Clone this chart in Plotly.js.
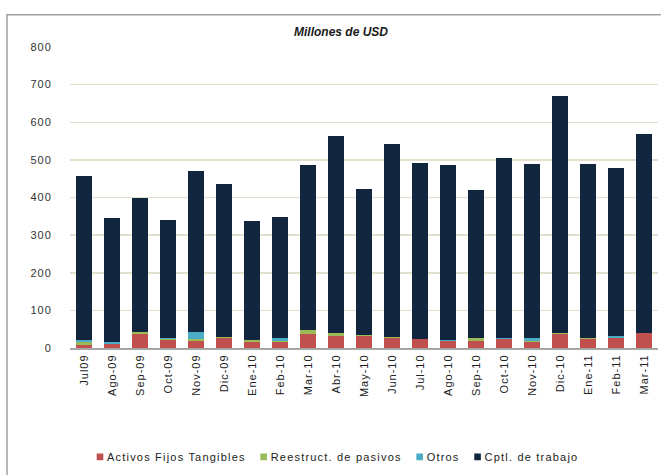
<!DOCTYPE html>
<html>
<head>
<meta charset="utf-8">
<script src="https://cdn.plot.ly/plotly-3.0.1.min.js"></script>
<style>
  html, body { margin: 0; padding: 0; background: #fff; }
  #chart { width: 661px; height: 475px; }
  #chart .xtick text, #chart .ytick text { letter-spacing: 1px; }
  #chart .legendtext { letter-spacing: 1.2px; }
</style>
</head>
<body>
<div id="chart"></div>
<script>
// Monthly breakdown of credit use, millions of USD
const months = ["Jul09", "Ago-09", "Sep-09", "Oct-09", "Nov-09", "Dic-09",
  "Ene-10", "Feb-10", "Mar-10", "Abr-10", "May-10", "Jun-10", "Jul-10",
  "Ago-10", "Sep-10", "Oct-10", "Nov-10", "Dic-10", "Ene-11", "Feb-11", "Mar-11"];

const activosFijos = [9, 11, 38, 21, 17.5, 27, 15, 16, 36, 32, 31, 27, 24,
  17.5, 17.5, 23.5, 15, 36, 23.5, 26, 39];
const reestructPasivos = [6, 0.5, 4, 3.5, 6, 2.5, 5, 1.5, 12, 7, 2.5, 2.5, 0.5,
  0.5, 8, 0.5, 3.5, 3.5, 3.5, 0.5, 0.5];
const otros = [7, 3.5, 0, 2.5, 19, 0, 1, 10, 0, 0, 0, 0, 0,
  4, 2, 3.5, 9, 0, 0, 4.3, 0];
const cptlTrabajo = [436, 331, 356, 313, 428.5, 407.5, 316, 320.5, 439, 524, 388.5,
  512.5, 467.5, 465, 391.5, 477.5, 462.5, 631.5, 463, 447, 530.5];

const FONT = "Liberation Sans, Arial, sans-serif";

function series(name, values, color) {
  return {
    type: "bar",
    name: name,
    x: months,
    y: values,
    marker: { color: color, line: { width: 0 } },
    hoverinfo: "skip"
  };
}

const data = [
  series("Activos Fijos Tangibles", activosFijos, "#C0504D"),
  series("Reestruct. de pasivos", reestructPasivos, "#9BBB59"),
  series("Otros", otros, "#4BACC6"),
  series("Cptl. de trabajo", cptlTrabajo, "#11253F")
];

// plot area spans pixels x 70..658, y 47..354
const L = 70, R = 658, T = 47, B = 354;
const px = p => (p - L) / (R - L);
const py = q => (B - q) / (B - T);

const layout = {
  width: 661,
  height: 475,
  margin: { l: L, r: 661 - R, t: T, b: 475 - B, pad: 0 },
  paper_bgcolor: "#fff",
  plot_bgcolor: "#fff",
  barmode: "stack",
  bargap: 0.42,
  showlegend: true,
  font: { family: FONT, size: 11, color: "#333" },
  title: {
    text: "Millones de USD",
    x: 341 / 661,
    xref: "container",
    xanchor: "center",
    y: 1 - 32 / 475,
    yref: "container",
    yanchor: "middle",
    font: { family: FONT, size: 12, color: "#1a1a1a", weight: "bold", style: "italic" }
  },
  xaxis: {
    type: "category",
    tickangle: -90,
    showgrid: false,
    showline: true,
    linecolor: "#a6a6a6",
    linewidth: 2,
    ticks: "",
    tickfont: { family: FONT, size: 11, color: "#222" },
    fixedrange: true
  },
  yaxis: {
    range: [0, 800],
    dtick: 100,
    tick0: 0,
    showgrid: true,
    gridcolor: "#e2dfce",
    gridwidth: 1.5,
    zeroline: false,
    showline: false,
    ticks: "outside",
    ticklen: 15,
    tickcolor: "rgba(0,0,0,0)",
    tickfont: { family: FONT, size: 11, color: "#333" },
    fixedrange: true
  },
  legend: {
    orientation: "h",
    x: px(341),
    xanchor: "center",
    y: py(465),
    yanchor: "middle",
    font: { family: FONT, size: 11, color: "#222" },
    traceorder: "normal",
    itemwidth: 30,
    bgcolor: "rgba(0,0,0,0)"
  },
  shapes: [
    {
      type: "rect",
      xref: "paper", yref: "paper",
      x0: px(7), x1: px(720),
      y0: py(530), y1: py(14),
      line: { color: "#a0a0a0", width: 1.5 },
      fillcolor: "rgba(0,0,0,0)",
      layer: "below"
    }
  ]
};

Plotly.newPlot("chart", data, layout, { staticPlot: true, displayModeBar: false }).then(function () {
  // compact legend: small swatch right before each label, tight spacing between entries
  const items = Array.from(document.querySelectorAll("#chart .legend .traces"));
  let swatchCenter = 100;
  items.forEach(function (g) {
    const sw = g.querySelector(".legendpoints path");
    if (sw) sw.setAttribute("transform", "translate(33,0) scale(0.55)");
    const m = /translate\(\s*([-\d.e]+)[ ,]+([-\d.e]+)\s*\)/.exec(g.getAttribute("transform") || "");
    const gx = m ? parseFloat(m[1]) : 0;
    const gy = m ? parseFloat(m[2]) : 0;
    const r = sw.getBoundingClientRect();
    const dx = swatchCenter - (r.left + r.right) / 2;
    g.setAttribute("transform", "translate(" + (gx + dx) + "," + gy + ")");
    const t = g.querySelector(".legendtext").getBoundingClientRect();
    swatchCenter = t.right + 18;
  });
});
</script>
</body>
</html>
